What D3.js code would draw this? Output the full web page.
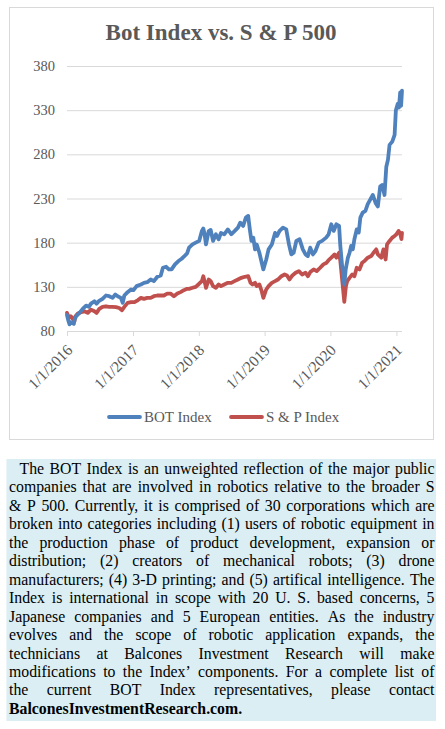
<!DOCTYPE html>
<html><head><meta charset="utf-8">
<script src="https://cdn.jsdelivr.net/npm/d3@7"></script>
<style>body{margin:0;background:#fff}</style>
</head><body>
<svg id="c" width="445" height="729"></svg>
<script>
const titleText = "Bot Index vs. S & P 500";
const seriesNames = ["BOT Index", "S & P Index"];
const seriesColors = ["#4f81bd", "#c0504d"];
const yTicks = [80, 130, 180, 230, 280, 330, 380];
const xTickDates = ["2016-01-01","2017-01-01","2018-01-01","2019-01-01","2020-01-01","2021-01-01"];

const botDates = ["2016-01-01","2016-01-08","2016-01-15","2016-01-22","2016-01-30","2016-02-08","2016-02-12","2016-02-21","2016-03-10","2016-03-28","2016-04-16","2016-05-01","2016-05-13","2016-06-01","2016-06-13","2016-06-25","2016-07-16","2016-08-04","2016-08-22","2016-09-10","2016-09-25","2016-10-08","2016-10-26","2016-11-05","2016-11-14","2016-12-02","2016-12-21","2017-01-03","2017-01-21","2017-02-14","2017-03-03","2017-03-21","2017-04-09","2017-04-27","2017-05-16","2017-06-04","2017-06-16","2017-07-04","2017-07-19","2017-08-03","2017-08-22","2017-09-10","2017-09-28","2017-10-10","2017-10-28","2017-11-08","2017-11-27","2017-12-15","2018-01-03","2018-01-18","2018-01-26","2018-02-01","2018-02-10","2018-02-25","2018-03-08","2018-03-21","2018-04-06","2018-04-21","2018-05-04","2018-05-22","2018-06-11","2018-06-30","2018-07-18","2018-08-06","2018-08-19","2018-09-04","2018-09-19","2018-10-02","2018-10-11","2018-10-20","2018-10-30","2018-11-09","2018-11-18","2018-12-03","2018-12-16","2018-12-25","2019-01-10","2019-01-23","2019-02-10","2019-02-28","2019-03-11","2019-03-25","2019-04-13","2019-05-01","2019-05-16","2019-05-29","2019-06-11","2019-06-26","2019-07-14","2019-08-01","2019-08-16","2019-08-29","2019-09-11","2019-09-26","2019-10-10","2019-10-28","2019-11-16","2019-12-08","2019-12-22","2020-01-06","2020-01-19","2020-02-03","2020-02-18","2020-02-25","2020-03-06","2020-03-18","2020-03-26","2020-04-07","2020-04-16","2020-04-25","2020-05-04","2020-05-13","2020-05-26","2020-06-06","2020-06-15","2020-06-28","2020-07-13","2020-07-26","2020-08-08","2020-08-23","2020-09-08","2020-09-20","2020-10-03","2020-10-14","2020-10-27","2020-11-06","2020-11-15","2020-11-24","2020-12-09","2020-12-22","2020-12-29","2021-01-08","2021-01-15","2021-01-22","2021-01-27","2021-02-01"];
const botValues = [98,92,87.5,90,89,88,92.9,96.7,100.5,105,108.8,107.3,111,113.7,111,113.7,116.4,120.2,119.4,117.5,121.3,119.4,117.5,111.8,120.2,124,127,126.2,130.8,132.7,134.5,135.3,138.3,136.4,141.4,142.9,151.6,152.7,149.7,149.7,155.4,159.2,161.8,164.1,167.9,174.3,178,180,182,193.3,196,191,178,193,194.4,182,189.5,183.8,191,189.5,195,189.5,193,197,202.7,199,208.4,210.3,195,182,185.7,172.4,178,168.6,157.3,149.7,161,172.4,178,191,187.6,193.3,197,195,178,166.7,168.6,182,183.8,172.4,166.7,164.8,174.3,166.7,170.5,180,182,185.7,189.5,200.8,193.3,200.8,199,176.2,153.5,132.5,150,163,168.6,176.2,172.4,183.8,195,191.4,208.4,214,216,223.6,228.5,234,224.7,221,243.6,245.4,234,266,273.7,290.7,294.4,302,330,337,333,350,335,352];

const spDates = ["2016-01-01","2016-01-12","2016-01-22","2016-02-05","2016-02-11","2016-02-17","2016-03-01","2016-03-19","2016-04-07","2016-04-25","2016-05-13","2016-06-01","2016-06-13","2016-06-28","2016-07-16","2016-08-04","2016-08-22","2016-09-10","2016-09-29","2016-10-17","2016-11-01","2016-11-14","2016-12-02","2016-12-21","2017-01-09","2017-01-27","2017-02-14","2017-03-03","2017-03-21","2017-04-09","2017-04-27","2017-05-16","2017-06-04","2017-06-21","2017-07-10","2017-07-28","2017-08-16","2017-09-04","2017-09-22","2017-10-10","2017-10-28","2017-11-08","2017-11-27","2017-12-15","2018-01-03","2018-01-18","2018-01-26","2018-02-06","2018-02-10","2018-02-25","2018-03-08","2018-03-21","2018-04-06","2018-04-21","2018-05-04","2018-05-22","2018-06-11","2018-06-30","2018-07-18","2018-08-06","2018-08-25","2018-09-13","2018-10-02","2018-10-15","2018-10-26","2018-11-09","2018-11-18","2018-12-03","2018-12-16","2018-12-25","2019-01-10","2019-01-23","2019-02-10","2019-02-28","2019-03-16","2019-04-04","2019-04-22","2019-05-05","2019-05-19","2019-06-04","2019-06-22","2019-07-10","2019-07-28","2019-08-16","2019-08-29","2019-09-11","2019-09-30","2019-10-17","2019-11-05","2019-11-23","2019-12-11","2019-12-22","2020-01-06","2020-01-24","2020-02-03","2020-02-18","2020-02-25","2020-03-06","2020-03-18","2020-03-27","2020-04-03","2020-04-16","2020-05-01","2020-05-13","2020-05-26","2020-06-10","2020-06-25","2020-07-08","2020-07-26","2020-08-14","2020-08-27","2020-09-11","2020-09-20","2020-10-09","2020-10-21","2020-11-02","2020-11-10","2020-11-24","2020-12-09","2020-12-22","2021-01-01","2021-01-13","2021-01-22","2021-01-29","2021-02-01"];
const spValues = [100.5,94.8,96.7,93,91,96.7,99.7,101.2,102.3,100.5,104.2,102.3,100.5,105,107.3,108,107.3,107.3,107,106,103.5,107.3,111.8,112.6,112.6,114.8,117.5,116.4,117.5,117.5,119.4,120.2,120.2,120.2,122.4,122.4,119.4,122.4,124,126.2,127.7,127.7,128.9,130,133.5,136.4,142,132.7,128.9,138.3,136.4,130.8,128.9,132.7,130.8,132.7,134.5,134.5,136.4,138.3,140.2,141.4,142,134.5,132.7,134.5,130.8,132.7,125,117.5,127,130.8,134.5,136.4,138.3,142,144,142.9,138.3,142.9,145.9,147.8,144,145.9,142,146.7,149.7,147.8,151.6,155.4,157.3,160.3,163,166.7,163,168.6,159.2,138.3,113,130.8,136.4,140.2,144,142,151.6,149.7,157.3,159.2,163,164.8,168.6,172.4,166.7,163,172.4,161,178,181.9,185.7,187.6,189.5,193.3,190,184,191];

const noteLines = [
 "The BOT Index is an unweighted reflection of the major public",
 "companies that are involved in robotics relative to the broader S",
 "& P 500. Currently, it is comprised of 30 corporations which are",
 "broken into categories including (1) users of robotic equipment in",
 "the production phase of product development, expansion or",
 "distribution; (2) creators of mechanical robots; (3) drone",
 "manufacturers; (4) 3-D printing; and (5) artifical intelligence. The",
 "Index is international in scope with 20 U. S. based concerns, 5",
 "Japanese companies and 5 European entities. As the industry",
 "evolves and the scope of robotic application expands, the",
 "technicians at Balcones Investment Research will make",
 "modifications to the Index\u2019 components. For a complete list of",
 "the current BOT Index representatives, please contact"
];
const noteLast = "BalconesInvestmentResearch.com.";

const FONT = "'Liberation Serif','Times New Roman',serif";
const GREY = "#595959";
const svg = d3.select("#c");
const parse = d3.timeParse("%Y-%m-%d");

// chart frame
svg.append("rect").attr("x",9.5).attr("y",7.5).attr("width",424).attr("height",432)
  .attr("fill","#fff").attr("stroke","#d9d9d9").attr("stroke-width",1);

// title
const title = svg.append("text").attr("x",221).attr("y",40).attr("text-anchor","middle")
  .attr("font-family",FONT).attr("font-weight","bold").attr("font-size",21)
  .attr("fill",GREY).text(titleText);
{ const w = title.node().getComputedTextLength(); title.attr("font-size", 21*231/w); }

const x = d3.scaleTime().domain([parse(botDates[0]), parse(botDates[botDates.length-1])]).range([67,402]);
const y = d3.scaleLinear().domain([80,380]).range([331,66]);

// y axis with gridlines
const gy = svg.append("g").attr("transform","translate(67,0)")
  .call(d3.axisLeft(y).tickValues(yTicks).tickSize(-335).tickPadding(12).tickFormat(d3.format("d")));
gy.select(".domain").remove();
gy.selectAll(".tick line").attr("stroke","#d9d9d9").attr("stroke-width",1);
gy.selectAll(".tick text").attr("font-family",FONT).attr("font-size",14.5).attr("fill",GREY);

// x axis
const gx = svg.append("g").attr("transform","translate(0,331)")
  .call(d3.axisBottom(x).tickValues(xTickDates.map(parse)).tickSize(5).tickFormat(d3.timeFormat("%-m/%-d/%Y")));
gx.select(".domain").attr("stroke","#d9d9d9").attr("d","M67,0.5H402");
gx.selectAll(".tick line").attr("stroke","#d9d9d9");
gx.selectAll(".tick text").attr("font-family",FONT).attr("font-size",15.5).attr("fill",GREY)
  .attr("x",0).attr("y",0).attr("dy",0).attr("text-anchor","end")
  .attr("transform","translate(6,20) rotate(-45)");

// lines
const line = d3.line().x(d=>x(d[0])).y(d=>y(d[1]));
const botData = botDates.map((d,i)=>[parse(d),botValues[i]]);
const spData = spDates.map((d,i)=>[parse(d),spValues[i]]);
svg.append("path").datum(spData).attr("d",line).attr("fill","none")
  .attr("stroke",seriesColors[1]).attr("stroke-width",3.8).attr("stroke-linejoin","round").attr("stroke-linecap","round");
svg.append("path").datum(botData).attr("d",line).attr("fill","none")
  .attr("stroke",seriesColors[0]).attr("stroke-width",3.8).attr("stroke-linejoin","round").attr("stroke-linecap","round");

// legend
const legX = [108, 230];
seriesNames.forEach((n,i)=>{
  svg.append("line").attr("x1",legX[i]+1).attr("x2",legX[i]+32).attr("y1",417).attr("y2",417)
    .attr("stroke",seriesColors[i]).attr("stroke-width",3.8).attr("stroke-linecap","round");
  svg.append("text").attr("x",legX[i]+36).attr("y",417).attr("dy","0.35em")
    .attr("font-family",FONT).attr("font-size",15).attr("fill",GREY).text(n);
});

// note box
svg.append("rect").attr("x",6.5).attr("y",459).attr("width",429.5).attr("height",262).attr("fill","#daeef3");
const noteG = svg.append("g").attr("font-family",FONT).attr("fill","#000");
const LEFT = 9, RIGHT = 434.5, BASE0 = 474, LH = 18.45;
let fs = 15.8;
const meas = noteG.append("text").attr("font-size",fs);
function wordW(w, size){ meas.attr("font-size",size).text(w); return meas.node().getComputedTextLength(); }
function fits(size){
  return noteLines.every((l,i)=>{
    const words = l.split(" "); const left = i===0 ? 19.5 : LEFT;
    const sum = d3.sum(words, w=>wordW(w,size));
    return sum + (words.length-1)*size*0.2 <= RIGHT-left;
  });
}
while(!fits(fs) && fs>10) fs -= 0.1;
noteLines.forEach((l,i)=>{
  const words = l.split(" "); const left = i===0 ? 19.5 : LEFT;
  const ws = words.map(w=>wordW(w,fs));
  const gap = (RIGHT-left-d3.sum(ws))/(words.length-1);
  const t = noteG.append("text").attr("y",BASE0+i*LH).attr("font-size",fs);
  let cx = left;
  words.forEach((w,j)=>{ t.append("tspan").attr("x",cx).text(w); cx += ws[j]+gap; });
});
noteG.append("text").attr("x",LEFT).attr("y",BASE0+13*LH).attr("font-size",fs)
  .attr("font-weight","bold").text(noteLast);
meas.remove();
</script>
</body></html>
